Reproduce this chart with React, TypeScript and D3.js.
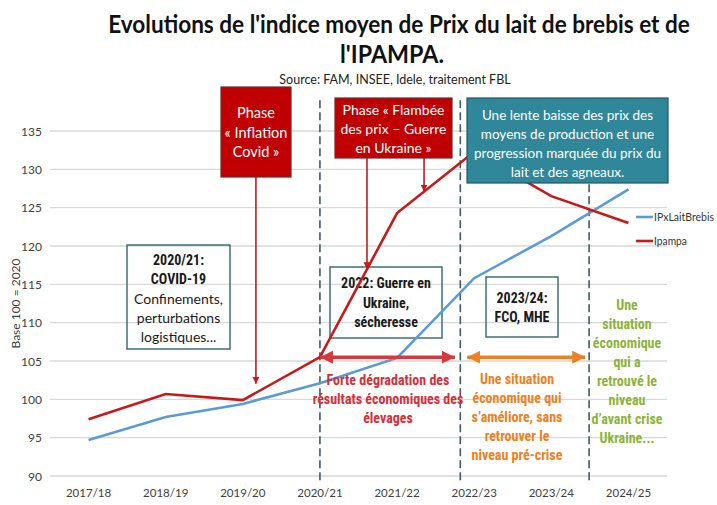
import React, { useEffect, useRef } from 'react';
import * as d3 from 'd3';

// campagnes (axe X) et indices base 100 = 2020
const campagnes = ['2017/18', '2018/19', '2019/20', '2020/21', '2021/22', '2022/23', '2023/24', '2024/25'];
const pxLaitBrebis = [94.7, 97.7, 99.4, 102.1, 105.4, 115.8, 121.3, 127.4];
const ipampa = [97.4, 100.7, 99.9, 105.5, 124.3, 132.3, 126.5, 123.0];
const yTicks = [90, 95, 100, 105, 110, 115, 120, 125, 130, 135];
const seriesNames = ['IPxLaitBrebis', 'Ipampa'];

const GEO = "'Century Gothic', Lato, 'Open Sans', sans-serif";
const COND = "'Liberation Sans Narrow', 'Roboto Condensed', Roboto, 'Open Sans', sans-serif";

const App = () => {
  const svgRef = useRef<SVGSVGElement>(null);

  useEffect(() => {
    const width = 717;
    const height = 505;
    const plot = { left: 50, right: 667, top: 131, bottom: 476 };

    d3.select(svgRef.current).selectAll('*').remove();
    const svg = d3.select(svgRef.current)
      .attr('width', width)
      .attr('height', height)
      .style('font-family', GEO);

    const x = d3.scaleBand().domain(campagnes).range([plot.left, plot.right]).padding(0);
    const y = d3.scaleLinear().domain([90, 135]).range([plot.bottom, plot.top]);
    // position continue sur l'axe des campagnes (index fractionnaire)
    const xi = (i: number) => x(campagnes[0])! + x.bandwidth() / 2 + i * x.step();
    const ipAt = (i: number) => {
      const k = Math.floor(i);
      return ipampa[k] + (i - k) * (ipampa[k + 1] - ipampa[k]);
    };

    // texte resserré horizontalement pour tenir dans une largeur donnée
    const squeezed = (
      tx: number, ty: number, str: string, size: number, weight: string,
      target: number, anchor: string, color: string
    ) => {
      const g = svg.append('g');
      const t = g.append('text')
        .attr('x', 0).attr('y', 0)
        .attr('text-anchor', anchor)
        .attr('font-size', size).attr('font-weight', weight)
        .attr('fill', color)
        .text(str);
      const len = (t.node() as SVGTextElement).getComputedTextLength() || target;
      g.attr('transform', `translate(${tx},${ty}) scale(${Math.min(1, target / len)},1)`);
    };

    const defs = svg.append('defs');
    const marker = (id: string, color: string, len: number, half: number) => {
      defs.append('marker')
        .attr('id', id)
        .attr('markerUnits', 'userSpaceOnUse')
        .attr('viewBox', `0 ${-half} ${len} ${half * 2}`)
        .attr('refX', len).attr('refY', 0)
        .attr('markerWidth', len).attr('markerHeight', half * 2)
        .attr('orient', 'auto-start-reverse')
        .append('path')
        .attr('d', `M0,${-half}L${len},0L0,${half}Z`)
        .attr('fill', color);
    };
    marker('arRed', '#d6383d', 13, 6.5);
    marker('arOrange', '#ef7f22', 13, 6.5);
    marker('arPtr', '#c41a1a', 7, 3.5);

    // Titre
    squeezed(399, 33, "Evolutions de l'indice moyen de Prix du lait de brebis et de", 25, 'bold', 582, 'middle', '#111');
    squeezed(392, 63, "l'IPAMPA.", 25, 'bold', 104, 'middle', '#111');
    squeezed(395, 84, 'Source: FAM, INSEE, Idele, traitement FBL', 12.5, 'normal', 240, 'middle', '#222');

    // Grille + axe Y
    svg.append('g')
      .selectAll('line')
      .data(yTicks)
      .enter()
      .append('line')
      .attr('x1', plot.left).attr('x2', plot.right)
      .attr('y1', d => y(d)).attr('y2', d => y(d))
      .attr('stroke', '#d9d9d9').attr('stroke-width', 1.3);

    svg.append('g')
      .selectAll('text')
      .data(yTicks)
      .enter()
      .append('text')
      .attr('x', 42).attr('y', d => y(d) + 4.5)
      .attr('text-anchor', 'end')
      .attr('font-size', 12).attr('fill', '#404040')
      .text(d => d);

    svg.append('text')
      .attr('transform', `translate(20,${y(112.5)}) rotate(-90)`)
      .attr('text-anchor', 'middle')
      .attr('font-size', 12).attr('fill', '#404040')
      .text('Base 100 = 2020');

    // Axe X
    svg.append('g')
      .selectAll('text')
      .data(campagnes)
      .enter()
      .append('text')
      .attr('x', d => x(d)! + x.bandwidth() / 2)
      .attr('y', 497)
      .attr('text-anchor', 'middle')
      .attr('font-size', 11.5).attr('fill', '#404040')
      .text(d => d);

    // Séparateurs de périodes
    [3, 4.82, 6.49].forEach(i => {
      svg.append('line')
        .attr('x1', xi(i)).attr('x2', xi(i))
        .attr('y1', y(139)).attr('y2', y(89.2))
        .attr('stroke', '#3d5b64').attr('stroke-width', 1.6)
        .attr('stroke-dasharray', '8,4');
    });

    // Annotations sans fond
    const textBlock = (
      cx: number, y0: number, dy: number,
      lines: { t: string; b?: boolean; f?: string }[],
      color: string, size: number
    ) => {
      lines.forEach((l, k) => {
        svg.append('text')
          .attr('x', cx).attr('y', y0 + k * dy)
          .attr('text-anchor', 'middle')
          .attr('font-size', size)
          .attr('font-weight', l.b ? 'bold' : 'normal')
          .attr('font-family', l.f || GEO)
          .attr('fill', color)
          .text(l.t);
      });
    };

    const frame = (x0: number, y0: number, x1: number, y1: number) => {
      svg.append('rect')
        .attr('x', x0).attr('y', y0)
        .attr('width', x1 - x0).attr('height', y1 - y0)
        .attr('fill', 'none')
        .attr('stroke', '#3e7079').attr('stroke-width', 1.5);
    };

    frame(127, 245, 230, 349);
    textBlock(178.5, 265, 19.3, [
      { t: '2020/21:', b: true, f: COND },
      { t: 'COVID-19', b: true, f: COND },
      { t: 'Confinements,' },
      { t: 'perturbations' },
      { t: 'logistiques...' },
    ], '#1a1a1a', 14);

    frame(330, 267, 442, 338);
    textBlock(386, 288, 19.5, [
      { t: '2022: Guerre en', b: true, f: COND },
      { t: 'Ukraine,', b: true, f: COND },
      { t: 'sécheresse', b: true, f: COND },
    ], '#1a1a1a', 14);

    frame(486, 277, 558, 337);
    textBlock(522, 303, 19, [
      { t: '2023/24:', b: true, f: COND },
      { t: 'FCO, MHE', b: true, f: COND },
    ], '#1a1a1a', 14);

    // Courbes
    const line = d3.line<number>()
      .x((d, i) => x(campagnes[i])! + x.bandwidth() / 2)
      .y(d => y(d));

    svg.append('path')
      .datum(pxLaitBrebis)
      .attr('fill', 'none')
      .attr('stroke', '#5b9bd5').attr('stroke-width', 2.6)
      .attr('d', line);

    svg.append('path')
      .datum(ipampa)
      .attr('fill', 'none')
      .attr('stroke', '#c41a1a').attr('stroke-width', 2.6)
      .attr('d', line);

    // Doubles flèches de période
    const arrowY = y(ipampa[3]);
    svg.append('line')
      .attr('x1', xi(3)).attr('x2', xi(4.75))
      .attr('y1', arrowY).attr('y2', arrowY)
      .attr('stroke', '#d6383d').attr('stroke-width', 3.5)
      .attr('marker-start', 'url(#arRed)').attr('marker-end', 'url(#arRed)');
    svg.append('line')
      .attr('x1', xi(4.91)).attr('x2', xi(6.44))
      .attr('y1', arrowY).attr('y2', arrowY)
      .attr('stroke', '#ef7f22').attr('stroke-width', 3.5)
      .attr('marker-start', 'url(#arOrange)').attr('marker-end', 'url(#arOrange)');

    textBlock(388, 385, 19, [
      { t: 'Forte dégradation des', b: true },
      { t: 'résultats économiques des', b: true },
      { t: 'élevages', b: true },
    ].map(l => ({ ...l, f: COND })), '#d3303a', 14);

    textBlock(517, 384, 19, [
      { t: 'Une situation' },
      { t: 'économique qui' },
      { t: 's\u2019améliore, sans' },
      { t: 'retrouver le' },
      { t: 'niveau pré-crise' },
    ].map(l => ({ ...l, b: true, f: COND })), '#f07f1e', 14);

    textBlock(627, 310, 19, [
      { t: 'Une' },
      { t: 'situation' },
      { t: 'économique' },
      { t: 'qui a' },
      { t: 'retrouvé le' },
      { t: 'niveau' },
      { t: 'd\u2019avant crise' },
      { t: 'Ukraine...' },
    ].map(l => ({ ...l, b: true, f: COND })), '#8cb43a', 14);

    // Pointeurs des phases
    const pointer = (i: number, yFrom: number, yTo: number) => {
      svg.append('line')
        .attr('x1', xi(i)).attr('x2', xi(i))
        .attr('y1', yFrom).attr('y2', yTo)
        .attr('stroke', '#c41a1a').attr('stroke-width', 1.6)
        .attr('marker-end', 'url(#arPtr)');
    };
    pointer(2.17, 177, y(ipAt(2.17)) - 9);
    pointer(3.61, 158, y(ipAt(3.61)));
    pointer(4.35, 158, y(ipAt(4.35)));

    // Encadrés pleins
    const filledBox = (
      x0: number, y0: number, x1: number, y1: number,
      fill: string, stroke: string, lines: string[], ty: number, dy: number, size: number
    ) => {
      svg.append('rect')
        .attr('x', x0).attr('y', y0)
        .attr('width', x1 - x0).attr('height', y1 - y0)
        .attr('fill', fill)
        .attr('stroke', stroke).attr('stroke-width', 1.2);
      textBlock((x0 + x1) / 2, ty, dy, lines.map(t => ({ t })), '#ffffff', size);
    };

    filledBox(221, 87, 291, 177, '#c00000', '#6b2a2a',
      ['Phase', '\u00ab Inflation', 'Covid \u00bb'], 118, 19.5, 14.5);
    filledBox(335, 98, 452, 158, '#c00000', '#6b2a2a',
      ['Phase \u00ab Flambée', 'des prix \u2013 Guerre', 'en Ukraine \u00bb'], 115, 19, 14);
    filledBox(467, 98, 668, 183, '#2f8799', '#1f5662',
      ['Une lente baisse des prix des', 'moyens de production et une',
        'progression marquée du prix du', 'lait et des agneaux.'], 120, 19, 13.5);

    // Légende
    const colors = ['#5b9bd5', '#c41a1a'];
    seriesNames.forEach((name, k) => {
      const ly = 217 + k * 24;
      svg.append('line')
        .attr('x1', 636).attr('x2', 653)
        .attr('y1', ly).attr('y2', ly)
        .attr('stroke', colors[k]).attr('stroke-width', 2.6);
      squeezed(654, ly + 4, name, 11.5, 'normal', k === 0 ? 60 : 33, 'start', '#333');
    });
  }, []);

  return (
    <div style={{ position: 'absolute', left: 0, top: 0, background: '#fff' }}>
      <svg ref={svgRef}></svg>
    </div>
  );
};

export default App;
